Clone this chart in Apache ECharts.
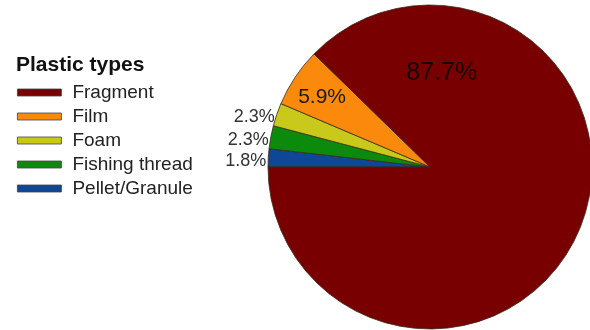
<!DOCTYPE html>
<html>
<head>
<meta charset="utf-8">
<script src="https://cdn.jsdelivr.net/npm/echarts@6/dist/echarts.min.js"></script>
<style>
  html, body { margin: 0; padding: 0; background: #ffffff; }
  #chart { width: 590px; height: 330px; }
</style>
</head>
<body>
<div id="chart"></div>
<script>
// Plastic types, in drawing order (clockwise from 9 o'clock)
const categories = ['Pellet/Granule', 'Fishing thread', 'Foam', 'Film', 'Fragment'];
const shares = [1.8, 2.3, 2.3, 5.9, 87.7];
const legendOrder = ['Fragment', 'Film', 'Foam', 'Fishing thread', 'Pellet/Granule'];

const palette = {
  'Fragment': '#780000',
  'Film': '#fb8a0c',
  'Foam': '#c9c91c',
  'Fishing thread': '#0c8a0c',
  'Pellet/Granule': '#0d4795'
};

const FONT = 'Arial, "Liberation Sans", sans-serif';

// Label placement per slice: big slices inside, thin slices outside on the left
const outerLabel = { position: 'outside', fontSize: 18, color: '#333333', distanceToLabelLine: 3, offset: [1, 3] };
const labelStyle = {
  'Fragment': { position: 'inside', fontSize: 25, color: '#1a0505', offset: [-66, -126] },
  'Film': { position: 'inside', fontSize: 21, color: '#1a1a1a', offset: [-38, -23] },
  'Foam': outerLabel,
  'Fishing thread': outerLabel,
  'Pellet/Granule': outerLabel
};

const pieData = categories.map((name, i) => ({
  name: name,
  value: shares[i],
  itemStyle: { color: palette[name] },
  label: Object.assign({ fontFamily: FONT }, labelStyle[name]),
  labelLine: { show: false, length: 0, length2: 0 }
}));

const chart = echarts.init(document.getElementById('chart'), null, { renderer: 'canvas' });

chart.setOption({
  backgroundColor: '#ffffff',
  animation: false,
  title: {
    text: 'Plastic types',
    left: 16,
    top: 55,
    padding: 0,
    textStyle: { fontFamily: FONT, fontSize: 21, fontWeight: 'bold', color: '#111111' }
  },
  legend: {
    orient: 'vertical',
    left: 17,
    top: 83,
    padding: 0,
    itemWidth: 44,
    itemHeight: 7,
    itemGap: 5,
    icon: 'rect',
    data: legendOrder,
    itemStyle: { borderColor: '#444444', borderWidth: 0.8 },
    textStyle: { fontFamily: FONT, fontSize: 19, color: '#222222', lineHeight: 19, padding: [0, 0, 0, 6] }
  },
  series: [{
    type: 'pie',
    center: [430, 167],
    radius: 162,
    startAngle: 180,
    clockwise: true,
    avoidLabelOverlap: false,
    silent: true,
    itemStyle: { borderColor: '#3a2a1a', borderWidth: 0.8 },
    label: {
      show: true,
      formatter: p => p.value.toFixed(1) + '%'
    },
    data: pieData
  }]
});
</script>
</body>
</html>
